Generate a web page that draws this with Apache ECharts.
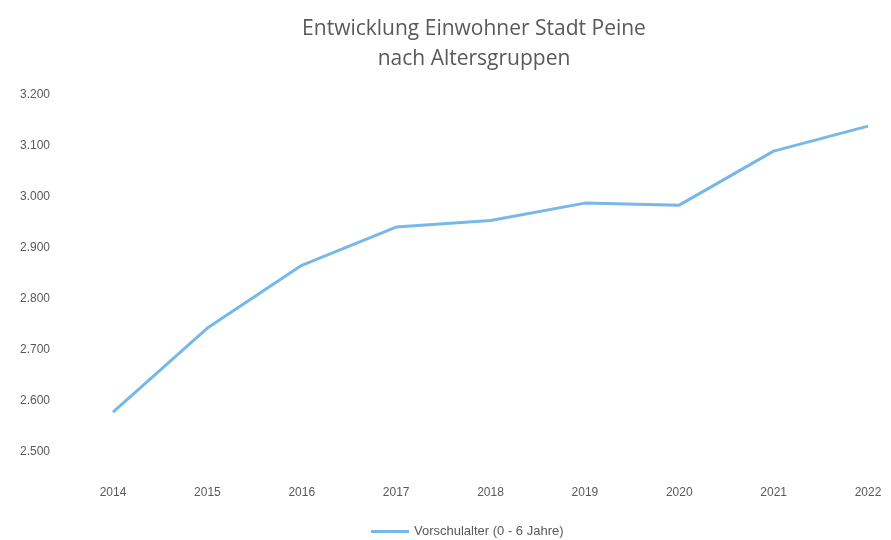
<!DOCTYPE html>
<html>
<head>
<meta charset="utf-8">
<script src="https://cdn.jsdelivr.net/npm/echarts@6/dist/echarts.min.js"></script>
<style>
html,body{margin:0;padding:0;background:#fff;}
#chart{width:891px;height:540px;}
</style>
</head>
<body>
<div id="chart"></div>
<script>
const titleLines = ['Entwicklung Einwohner Stadt Peine', 'nach Altersgruppen'];
const years = ['2014','2015','2016','2017','2018','2019','2020','2021','2022'];
const seriesName = 'Vorschulalter (0 - 6 Jahre)';
const vorschulalter = [2578, 2743, 2866, 2941, 2954, 2988, 2984, 3090, 3139];
const yMin = 2500, yMax = 3200, yStep = 100;

const chart = echarts.init(document.getElementById('chart'));
chart.setOption({
  backgroundColor: '#ffffff',
  animation: false,
  title: {
    text: titleLines.join('\n'),
    left: 469,
    textAlign: 'center',
    top: 9,
    textStyle: { fontFamily: 'Open Sans', fontSize: 21, fontWeight: 'normal', color: '#595959', lineHeight: 30 }
  },
  legend: {
    bottom: -3,
    left: 366,
    itemWidth: 38,
    itemHeight: 3,
    itemGap: 4,
    icon: 'rect',
    textStyle: { fontFamily: 'Liberation Sans', fontSize: 13, color: '#595959' },
    data: [seriesName]
  },
  grid: { left: 113, right: 23, top: 95, bottom: 88, containLabel: false },
  xAxis: {
    type: 'category',
    data: years,
    boundaryGap: false,
    axisLine: { show: false },
    axisTick: { show: false },
    axisLabel: { margin: 35, fontFamily: 'Liberation Sans', fontSize: 12, color: '#595959' }
  },
  yAxis: {
    type: 'value',
    min: yMin,
    max: yMax,
    interval: yStep,
    axisLine: { show: false },
    axisTick: { show: false },
    splitLine: { show: false },
    axisLabel: {
      margin: 63,
      fontFamily: 'Liberation Sans',
      fontSize: 12,
      color: '#595959',
      formatter: v => String(v).replace(/\B(?=(\d{3})+(?!\d))/g, '.')
    }
  },
  series: [{
    name: seriesName,
    type: 'line',
    data: vorschulalter,
    symbol: 'none',
    lineStyle: { color: '#78b8e8', width: 3 },
    itemStyle: { color: '#78b8e8' }
  }]
});
</script>
</body>
</html>
